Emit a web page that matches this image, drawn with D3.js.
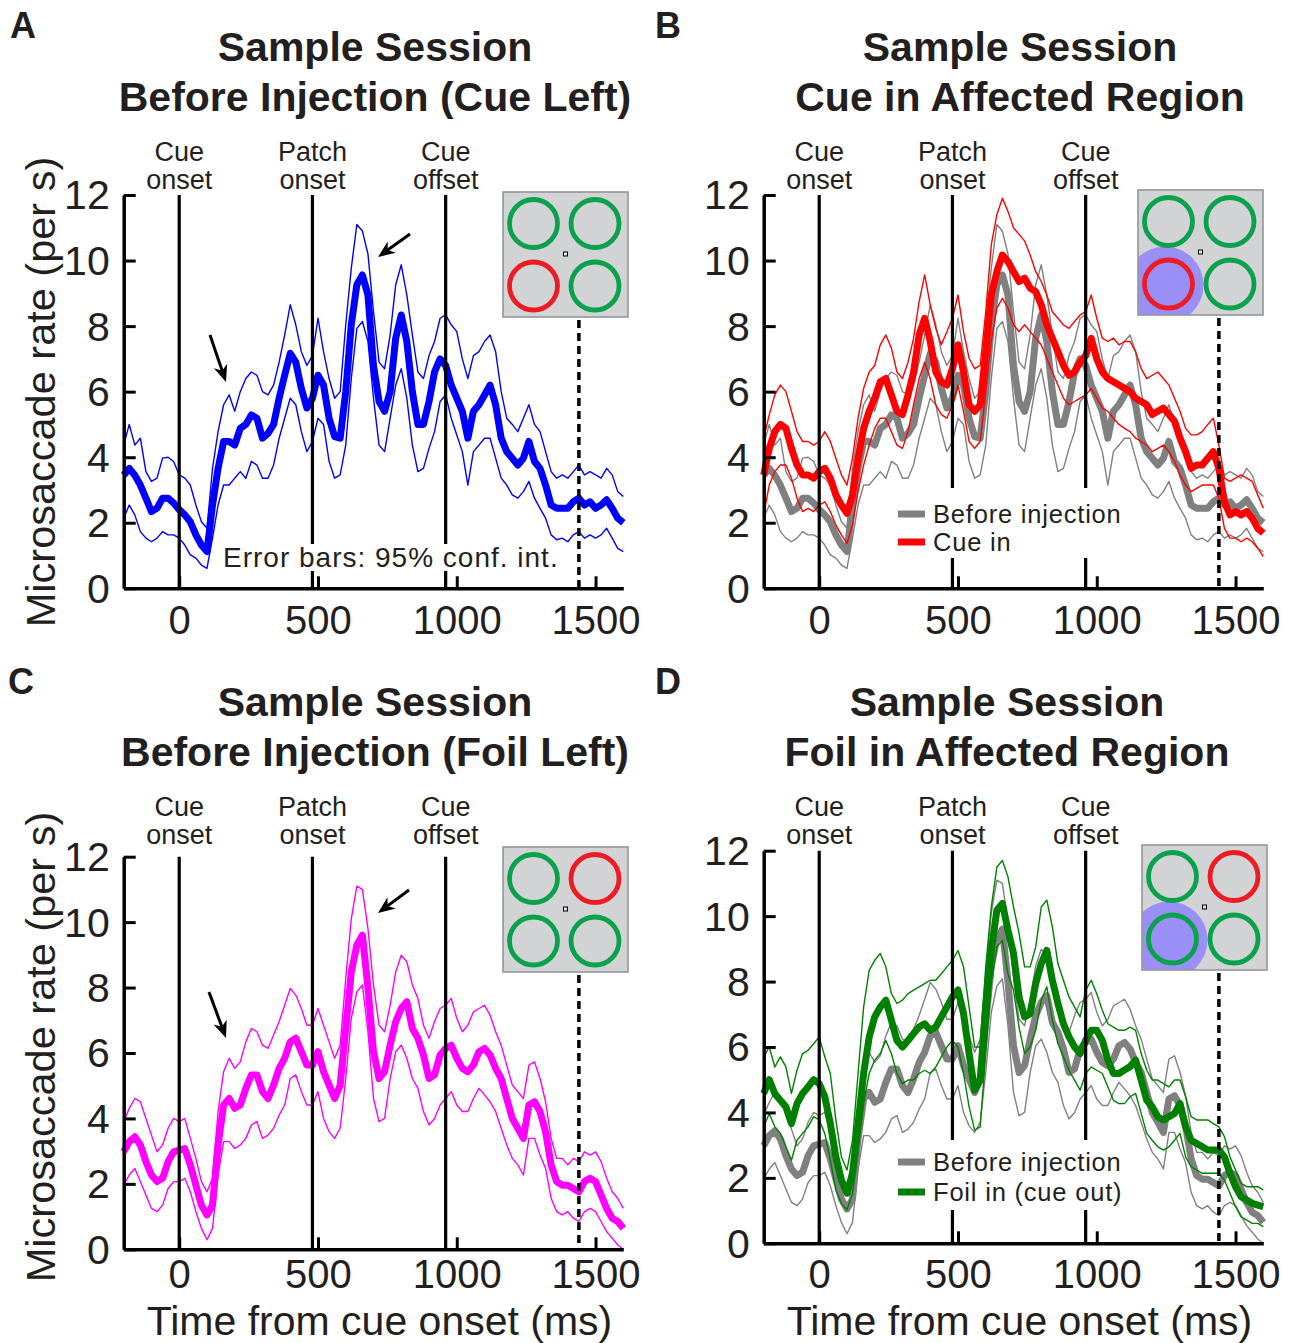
<!DOCTYPE html>
<html>
<head>
<meta charset="utf-8">
<script src="https://d3js.org/d3.v7.min.js"></script>
<style>
  body { margin: 0; background: #fff; }
  text { font-family: 'Liberation Sans', Arial, sans-serif; fill: #231f20; }
</style>
</head>
<body>
<script>
// sampling grid (ms from cue onset)
const times = d3.range(-200, 1601, 20);
const eventTimes = [0, 480, 960];
const eventLabels = [['Cue', 'onset'], ['Patch', 'onset'], ['Cue', 'offset']];
const trialEnd = 1440;
const xTicks = [0, 500, 1000, 1500];
const yTicks = [0, 2, 4, 6, 8, 10, 12];

// before injection, cue left (A, grey in B)
const beforeCueMean = [3.45, 3.66, 3.45, 3.15, 2.75, 2.34, 2.44, 2.75, 2.75, 2.6,
  2.4, 2.24, 2.03, 1.63, 1.32, 1.12, 2.54, 3.66, 4.48, 4.48,
  4.37, 4.88, 5.0, 5.29, 5.19, 4.58, 4.73, 5.0, 5.8, 6.5,
  7.17, 6.9, 6.1, 5.5, 5.8, 6.5, 6.2, 5.19, 4.63, 4.58,
  6.0, 8.04, 9.26, 9.56, 8.95, 6.8, 5.7, 5.4, 6.0, 7.63,
  8.34, 7.53, 6.0, 5.0, 5.0, 5.7, 6.6, 7.0, 6.8, 6.2,
  5.8, 5.4, 4.58, 5.4, 5.6, 5.9, 6.2, 5.6, 4.58, 4.17,
  3.97, 3.76, 3.97, 4.48, 3.87, 3.66, 3.15, 2.54, 2.44, 2.44,
  2.44, 2.64, 2.75, 2.54, 2.64, 2.44, 2.54, 2.7, 2.44, 2.14,
  2.0];
const beforeCueHi = [4.37, 5.0, 4.37, 4.58, 3.56, 3.26, 3.36, 3.97, 4.0, 3.87,
  3.46, 3.36, 3.15, 2.54, 2.03, 1.83, 3.66, 4.78, 5.6, 5.9,
  5.4, 6.0, 6.4, 6.6, 6.5, 6.0, 5.9, 6.2, 6.9, 7.73,
  8.65, 8.04, 7.22, 6.8, 7.1, 8.24, 7.22, 6.4, 5.8, 6.0,
  8.04, 9.77, 11.1, 10.9, 10.2, 8.44, 6.9, 6.7, 7.73, 9.26,
  9.87, 8.95, 7.73, 6.6, 6.4, 7.1, 7.53, 8.24, 8.34, 8.04,
  7.83, 7.0, 6.4, 7.1, 7.22, 7.53, 7.73, 7.22, 6.0, 5.19,
  5.0, 4.78, 5.19, 5.6, 5.0, 4.78, 4.17, 3.56, 3.36, 3.46,
  3.36, 3.56, 3.76, 3.46, 3.56, 3.46, 3.36, 3.66, 3.46, 2.95,
  2.8];
const beforeCueLo = [2.14, 2.54, 2.24, 1.73, 1.53, 1.42, 1.53, 1.73, 1.63, 1.63,
  1.53, 1.32, 1.02, 0.92, 0.71, 0.61, 1.53, 2.54, 3.15, 3.15,
  3.36, 3.56, 3.36, 3.87, 3.76, 3.36, 3.36, 3.76, 4.58, 5.19,
  5.8, 5.6, 4.78, 4.17, 4.48, 5.19, 5.0, 3.87, 3.36, 3.46,
  4.37, 6.4, 7.93, 8.14, 7.53, 5.8, 4.37, 4.17, 5.19, 6.2,
  6.7, 5.8, 4.37, 3.56, 3.66, 4.27, 4.78, 5.7, 5.9, 5.19,
  4.68, 4.17, 3.15, 4.17, 4.37, 4.58, 4.58, 3.97, 3.36, 3.15,
  2.85, 2.75, 2.95, 3.26, 2.75, 2.44, 2.14, 1.63, 1.48, 1.53,
  1.42, 1.63, 1.73, 1.53, 1.63, 1.53, 1.63, 1.83, 1.53, 1.22,
  1.12];

// cue in affected region (B, red)
const cueInMean = [3.46, 4.27, 4.78, 5.0, 4.88, 4.27, 3.76, 3.46, 3.46, 3.36,
  3.56, 3.66, 3.36, 2.85, 2.54, 2.29, 2.85, 3.97, 4.88, 5.4,
  5.8, 6.3, 6.4, 5.9, 5.4, 5.3, 5.9, 6.6, 7.73, 8.24,
  7.53, 6.6, 6.3, 6.2, 6.7, 7.43, 6.6, 5.6, 5.4, 5.6,
  7.22, 8.95, 9.66, 10.17, 9.97, 9.66, 9.36, 9.46, 9.16, 9.05,
  8.65, 8.04, 7.63, 7.22, 6.8, 6.5, 6.6, 6.9, 7.1, 7.63,
  7.0, 6.6, 6.4, 6.3, 6.2, 6.1, 6.0, 5.8, 5.7, 5.6,
  5.3, 5.4, 5.5, 5.3, 5.1, 4.58, 4.17, 3.66, 3.76, 3.76,
  3.97, 4.17, 3.66, 2.64, 2.24, 2.34, 2.24, 2.34, 2.14, 1.83,
  1.68];
const cueInHi = [4.58, 5.29, 5.9, 6.2, 6.0, 5.4, 4.78, 4.48, 4.48, 4.37,
  4.48, 4.78, 4.48, 3.97, 3.46, 3.15, 3.97, 5.19, 6.1, 6.6,
  6.8, 7.43, 7.73, 7.33, 6.6, 6.4, 6.9, 7.63, 8.75, 9.56,
  8.65, 7.93, 7.43, 7.83, 8.24, 8.95, 7.83, 7.02, 6.7, 6.8,
  8.44, 10.48, 11.4, 11.9, 11.5, 11.0, 10.8, 10.6, 10.17, 9.66,
  9.36, 8.95, 8.44, 8.24, 8.04, 7.93, 8.14, 8.34, 8.44, 8.95,
  8.24, 7.63, 7.53, 7.63, 7.43, 7.53, 7.53, 7.22, 6.7, 6.4,
  6.5, 6.6, 6.4, 6.2, 5.8, 5.4, 4.88, 4.68, 4.68, 4.78,
  5.0, 5.19, 4.37, 3.36, 3.26, 3.36, 3.46, 3.36, 3.26, 2.85,
  2.44];
const cueInLo = [2.24, 3.15, 3.56, 3.76, 3.76, 3.36, 2.75, 2.34, 2.44, 2.34,
  2.54, 2.64, 2.34, 1.93, 1.63, 1.37, 1.93, 2.95, 3.76, 4.37,
  4.88, 5.19, 5.19, 4.78, 4.37, 4.27, 4.78, 5.6, 6.4, 6.9,
  6.4, 5.6, 5.3, 5.19, 5.6, 6.2, 5.4, 4.48, 4.27, 4.48,
  6.0, 7.53, 8.55, 8.85, 8.55, 8.04, 7.83, 8.04, 7.83, 7.63,
  7.43, 7.02, 6.6, 6.2, 5.8, 5.6, 5.7, 5.8, 5.9, 6.1,
  5.8, 5.5, 5.4, 5.19, 5.0, 4.88, 4.78, 4.58, 4.48, 4.37,
  4.17, 4.27, 4.37, 4.17, 3.87, 3.46, 3.15, 2.95, 3.05, 3.15,
  3.15, 3.15, 2.75, 1.83, 1.53, 1.53, 1.42, 1.53, 1.42, 1.22,
  0.97];

// before injection, foil left (C, grey in D)
const beforeFoilMean = [2.98, 3.29, 3.44, 3.19, 2.68, 2.27, 2.07, 2.17, 2.68, 2.98,
  3.03, 3.08, 2.58, 1.96, 1.35, 1.05, 1.35, 3.19, 4.41, 4.61,
  4.31, 4.41, 4.92, 5.33, 5.33, 4.82, 4.61, 5.02, 5.53, 5.84,
  6.34, 6.45, 6.04, 5.63, 5.63, 6.04, 5.43, 5.02, 4.61, 5.02,
  6.75, 8.48, 9.3, 9.6, 8.0, 6.04, 5.22, 5.43, 6.24, 6.96,
  7.36, 7.57, 6.75, 6.45, 5.94, 5.22, 5.33, 5.94, 6.14, 6.24,
  5.84, 5.53, 5.43, 5.63, 6.04, 6.14, 5.94, 5.53, 5.22, 4.61,
  4.0, 3.7, 3.39, 4.41, 4.51, 4.21, 3.59, 2.58, 2.07, 1.96,
  1.96, 1.86, 1.76, 2.07, 2.17, 2.07, 1.66, 1.25, 0.95, 0.85,
  0.64];
const beforeFoilHi = [3.9, 4.31, 4.61, 4.51, 4.0, 3.49, 2.98, 3.19, 3.7, 4.0,
  3.9, 4.0, 3.39, 2.78, 2.07, 1.76, 2.17, 4.21, 5.43, 5.84,
  5.53, 5.73, 6.34, 6.75, 6.65, 6.24, 6.14, 6.55, 6.96, 7.46,
  7.97, 7.77, 7.36, 6.85, 6.85, 7.36, 6.85, 6.34, 5.84, 6.24,
  8.28, 10.1, 11.1, 11.0, 9.8, 8.08, 6.85, 6.65, 7.46, 8.48,
  8.99, 8.79, 8.08, 7.67, 6.85, 6.45, 6.96, 7.36, 7.46, 7.67,
  7.06, 6.65, 6.85, 7.26, 7.36, 7.46, 7.16, 6.65, 6.24, 5.63,
  5.02, 4.82, 4.61, 5.63, 5.73, 5.22, 4.51, 3.39, 2.78, 2.78,
  2.58, 2.78, 2.68, 2.98, 2.88, 2.98, 2.68, 2.17, 1.76, 1.56,
  1.25];
const beforeFoilLo = [1.96, 2.27, 2.47, 2.07, 1.66, 1.25, 1.15, 1.35, 1.86, 2.07,
  2.07, 2.17, 1.76, 1.15, 0.64, 0.29, 0.64, 2.27, 3.29, 3.29,
  3.08, 3.19, 3.39, 3.8, 3.9, 3.39, 3.49, 3.7, 4.1, 4.41,
  5.22, 5.33, 4.82, 4.41, 4.41, 4.82, 4.0, 3.59, 3.39, 3.7,
  5.22, 7.06, 7.87, 8.08, 6.65, 4.61, 3.9, 4.0, 5.22, 6.04,
  6.24, 5.84, 5.22, 4.92, 4.21, 3.8, 4.0, 4.41, 4.61, 4.82,
  4.41, 4.21, 4.21, 4.61, 4.92, 4.72, 4.51, 4.21, 3.7, 3.19,
  2.78, 2.58, 2.27, 3.39, 3.39, 2.88, 2.47, 1.56, 1.15, 1.05,
  1.15, 0.95, 0.85, 1.15, 1.25, 1.15, 0.85, 0.54, 0.34, 0.13,
  0.0];

// foil in affected region, cue out (D, green)
const foilInMean = [4.58, 5.0, 4.58, 4.37, 4.17, 3.66, 4.27, 4.58, 4.78, 5.0,
  4.88, 4.48, 3.66, 2.64, 1.93, 1.53, 2.14, 3.66, 5.19, 6.3,
  6.92, 7.22, 7.43, 6.82, 6.2, 6.0, 6.2, 6.41, 6.61, 6.71,
  6.51, 6.61, 6.92, 7.22, 7.53, 7.74, 7.02, 5.8, 4.68, 4.99,
  7.22, 8.95, 10.18, 10.39, 9.57, 8.86, 7.53, 6.92, 7.02, 7.94,
  8.55, 8.95, 8.04, 7.33, 6.71, 6.31, 6.0, 5.8, 6.2, 6.51,
  6.51, 6.2, 5.6, 5.19, 5.19, 5.3, 5.4, 5.6, 4.99, 4.37,
  4.17, 3.87, 3.77, 3.87, 3.97, 4.27, 3.56, 3.15, 3.05, 2.95,
  2.85, 2.85, 2.85, 2.64, 2.14, 1.73, 1.42, 1.32, 1.22, 1.17,
  1.12];
const foilInHi = [5.7, 6.0, 5.39, 5.7, 5.39, 4.58, 5.29, 5.8, 5.9, 6.1,
  6.31, 5.7, 5.19, 3.77, 2.64, 2.24, 3.15, 5.19, 7.22, 8.34,
  8.65, 8.86, 8.45, 7.63, 7.33, 7.43, 7.63, 7.74, 7.84, 7.94,
  8.04, 8.04, 8.24, 8.45, 8.65, 8.95, 8.45, 7.22, 6.0, 6.0,
  8.45, 10.28, 11.5, 11.7, 11.2, 10.28, 9.47, 8.45, 8.45, 9.06,
  10.28, 10.49, 9.67, 8.55, 8.04, 7.53, 7.22, 6.92, 7.74, 8.04,
  7.63, 7.12, 6.71, 6.61, 6.51, 6.51, 6.61, 6.51, 5.8, 5.29,
  4.99, 4.99, 4.88, 4.78, 4.99, 4.99, 4.48, 3.87, 3.77, 3.77,
  3.77, 3.66, 3.56, 3.26, 2.64, 2.24, 1.83, 1.73, 1.73, 1.73,
  1.63];
const foilInLo = [3.56, 3.97, 3.56, 3.36, 2.95, 2.54, 3.15, 3.36, 3.56, 3.87,
  3.77, 3.36, 2.54, 1.63, 1.22, 1.02, 1.53, 2.85, 4.27, 5.19,
  5.6, 5.8, 6.2, 5.8, 5.19, 4.88, 4.99, 4.99, 5.19, 5.29,
  5.19, 5.39, 5.7, 6.0, 6.2, 6.0, 5.19, 4.17, 3.46, 3.56,
  5.8, 7.94, 9.06, 9.26, 8.24, 7.74, 6.61, 5.8, 6.0, 6.51,
  7.43, 7.84, 6.82, 6.1, 5.7, 5.29, 4.99, 4.68, 5.19, 5.39,
  5.29, 5.19, 4.78, 4.37, 4.27, 4.27, 4.48, 4.58, 3.97, 3.36,
  3.15, 2.95, 2.85, 2.95, 3.15, 3.36, 2.64, 2.34, 2.24, 2.14,
  2.14, 2.14, 2.14, 1.93, 1.53, 1.12, 0.81, 0.71, 0.61, 0.61,
  0.51];

const panels = [
  {letter: 'A', lx: 10, ly: 38, x0: 123.7, x1: 623.3, yb: 588.3, yt: 195,
   title: ['Sample Session', 'Before Injection (Cue Left)'], tx: 375, tb: 61,
   labBase: 161, tickBase: 634, yTitle: 392,
   series: [{mean: beforeCueMean, hi: beforeCueHi, lo: beforeCueLo, color: '#0000ff'}],
   inset: {x: 503, y: 192, red: 2, blob: false},
   note: {x: 223, y: 567, text: 'Error bars: 95% conf. int.'},
   arrows: [[210, 335, 226, 382], [410, 234, 378, 257]]},
  {letter: 'B', lx: 655, ly: 38, x0: 763.7, x1: 1263.3, yb: 588.3, yt: 195,
   title: ['Sample Session', 'Cue in Affected Region'], tx: 1020, tb: 61,
   labBase: 161, tickBase: 634,
   series: [{mean: beforeCueMean, hi: beforeCueHi, lo: beforeCueLo, color: '#808080'},
            {mean: cueInMean, hi: cueInHi, lo: cueInLo, color: '#ff0000'}],
   inset: {x: 1138, y: 190, red: 2, blob: true},
   legend: {y: 514, gap: 28, box: [893, 488, 234, 70], names: ['Before injection', 'Cue in']},
   arrows: []},
  {letter: 'C', lx: 8, ly: 694, x0: 123.7, x1: 623.3, yb: 1249.3, yt: 856.7,
   title: ['Sample Session', 'Before Injection (Foil Left)'], tx: 375, tb: 716,
   labBase: 816, tickBase: 1288, yTitle: 1047, xTitle: true,
   series: [{mean: beforeFoilMean, hi: beforeFoilHi, lo: beforeFoilLo, color: '#ff00ff'}],
   inset: {x: 503, y: 847, red: 1, blob: false},
   arrows: [[209, 992, 226, 1038], [409, 890, 378, 913]]},
  {letter: 'D', lx: 655, ly: 694, x0: 763.7, x1: 1263.3, yb: 1243.3, yt: 850.7,
   title: ['Sample Session', 'Foil in Affected Region'], tx: 1007, tb: 716,
   labBase: 816, tickBase: 1288, xTitle: true,
   series: [{mean: beforeFoilMean, hi: beforeFoilHi, lo: beforeFoilLo, color: '#808080'},
            {mean: foilInMean, hi: foilInHi, lo: foilInLo, color: '#008000'}],
   inset: {x: 1142, y: 845, red: 1, blob: true},
   legend: {y: 1162, gap: 30, box: [893, 1140, 234, 70], names: ['Before injection', 'Foil in (cue out)']},
   arrows: []}
];

const svg = d3.select('body').append('svg')
  .attr('width', 1298).attr('height', 1343);

panels.forEach((p, pi) => {
  const x = d3.scaleLinear().domain([-200, 1600]).range([p.x0, p.x1]);
  const y = d3.scaleLinear().domain([0, 12]).range([p.yb, p.yt]);
  const g = svg.append('g');

  // letter + title
  g.append('text').attr('x', p.lx).attr('y', p.ly)
    .attr('font-size', 36).attr('font-weight', 'bold').text(p.letter);
  p.title.forEach((t, i) => {
    g.append('text').attr('x', p.tx).attr('y', p.tb + i * 50)
      .attr('text-anchor', 'middle').attr('font-size', 41).attr('font-weight', 'bold')
      .text(t);
  });

  // curves
  const line = d3.line().x((d, i) => x(times[i])).y(d => y(d));
  p.series.forEach(s => {
    [s.hi, s.lo].forEach(arr => {
      g.append('path').datum(arr).attr('d', line)
        .attr('fill', 'none').attr('stroke', s.color).attr('stroke-width', 1.4)
        .attr('stroke-linejoin', 'round');
    });
    g.append('path').datum(s.mean).attr('d', line)
      .attr('fill', 'none').attr('stroke', s.color).attr('stroke-width', 7)
      .attr('stroke-linejoin', 'round').attr('stroke-linecap', 'butt');
  });

  // event lines
  eventTimes.forEach((t, i) => {
    g.append('line').attr('x1', x(t)).attr('x2', x(t))
      .attr('y1', y(12)).attr('y2', y(0))
      .attr('stroke', '#000').attr('stroke-width', 3.2);
    eventLabels[i].forEach((w, j) => {
      g.append('text').attr('x', x(t)).attr('y', p.labBase + j * 27.5)
        .attr('text-anchor', 'middle').attr('font-size', 27).text(w);
    });
  });

  // end of trial (dashed)
  g.append('line').attr('x1', x(trialEnd)).attr('x2', x(trialEnd))
    .attr('y1', p.inset.y + 128).attr('y2', y(0))
    .attr('stroke', '#000').attr('stroke-width', 3.5).attr('stroke-dasharray', '8,5');

  // note / legend with white background
  if (p.note) {
    const t = g.append('text').attr('x', p.note.x).attr('y', p.note.y)
      .attr('font-size', 28).attr('letter-spacing', 1).text(p.note.text);
    const b = t.node().getBBox();
    g.insert('rect', () => t.node()).attr('x', b.x - 2).attr('y', b.y + 2)
      .attr('width', b.width + 4).attr('height', b.height - 4).attr('fill', '#fff');
  }
  if (p.legend) {
    const L = p.legend;
    g.append('rect').attr('x', L.box[0]).attr('y', L.box[1])
      .attr('width', L.box[2]).attr('height', L.box[3]).attr('fill', '#fff');
    p.series.forEach((s, i) => {
      const ly = L.y + i * L.gap;
      g.append('line').attr('x1', 898).attr('x2', 925).attr('y1', ly).attr('y2', ly)
        .attr('stroke', s.color).attr('stroke-width', 7);
      g.append('text').attr('x', 933).attr('y', ly + 8.5)
        .attr('font-size', 25.5).attr('letter-spacing', 0.8).text(L.names[i]);
    });
  }

  // inset
  const I = p.inset, S = 125;
  const ig = g.append('g').attr('transform', `translate(${I.x},${I.y})`);
  const clipId = 'clip' + pi;
  ig.append('clipPath').attr('id', clipId).append('rect').attr('width', S).attr('height', S);
  ig.append('rect').attr('width', S).attr('height', S).attr('fill', '#d1d3d4');
  if (I.blob) {
    ig.append('circle').attr('cx', 27).attr('cy', 95).attr('r', 38.5)
      .attr('fill', '#9a8ff7').attr('clip-path', `url(#${clipId})`);
  }
  const centers = [[30.5, 31.5], [92, 31.5], [30.5, 94], [92, 94]];
  centers.forEach((c, i) => {
    ig.append('circle').attr('cx', c[0]).attr('cy', c[1]).attr('r', 24)
      .attr('fill', 'none').attr('stroke', i === I.red ? '#ed1c24' : '#0aa14c')
      .attr('stroke-width', 4.8);
  });
  ig.append('rect').attr('x', 60.5).attr('y', 60).attr('width', 4).attr('height', 4)
    .attr('fill', '#e6e6e6').attr('stroke', '#000').attr('stroke-width', 1);
  ig.append('rect').attr('width', S).attr('height', S).attr('fill', 'none')
    .attr('stroke', '#939598').attr('stroke-width', 1.6);

  // axes
  const gx = g.append('g').attr('transform', `translate(0,${p.yb})`)
    .call(d3.axisBottom(x).tickValues(xTicks).tickFormat(d3.format('d'))
      .tickSizeInner(-12).tickSizeOuter(0));
  gx.select('.domain').attr('stroke', '#000').attr('stroke-width', 3.5);
  gx.selectAll('.tick line').attr('stroke', '#000').attr('stroke-width', 3);
  gx.selectAll('.tick text').attr('font-size', 40).attr('dy', null)
    .attr('y', p.tickBase - p.yb);

  const gy = g.append('g').attr('transform', `translate(${p.x0},0)`)
    .call(d3.axisLeft(y).tickValues(yTicks).tickSizeInner(-12).tickSizeOuter(0).tickPadding(14));
  gy.select('.domain').attr('stroke', '#000').attr('stroke-width', 3.5);
  gy.selectAll('.tick line').attr('stroke', '#000').attr('stroke-width', 3);
  gy.selectAll('.tick text').attr('font-size', 41).attr('dy', '0.34em');
  gx.attr('font-size', null).attr('font-family', null);
  gy.attr('font-size', null).attr('font-family', null);

  if (p.yTitle) {
    g.append('text').attr('transform', `translate(55,${p.yTitle}) rotate(-90)`)
      .attr('text-anchor', 'middle').attr('font-size', 41.5)
      .text('Microsaccade rate (per s)');
  }
  if (p.xTitle) {
    g.append('text').attr('x', (p.x0 + p.x1) / 2 + 6).attr('y', 1335)
      .attr('text-anchor', 'middle').attr('font-size', 41)
      .text('Time from cue onset (ms)');
  }

  // arrows
  p.arrows.forEach(([ax1, ay1, ax2, ay2]) => {
    const a = Math.atan2(ay2 - ay1, ax2 - ax1), L = 17, W = 7;
    const bx = ax2 - L * Math.cos(a), by = ay2 - L * Math.sin(a);
    const nx = ax2 - 0.7 * L * Math.cos(a), ny = ay2 - 0.7 * L * Math.sin(a);
    g.append('line').attr('x1', ax1).attr('y1', ay1).attr('x2', nx).attr('y2', ny)
      .attr('stroke', '#000').attr('stroke-width', 3);
    g.append('path')
      .attr('d', `M${ax2},${ay2}L${bx + W * Math.sin(a)},${by - W * Math.cos(a)}` +
        `L${nx},${ny}L${bx - W * Math.sin(a)},${by + W * Math.cos(a)}Z`)
      .attr('fill', '#000');
  });
});
</script>
</body>
</html>
